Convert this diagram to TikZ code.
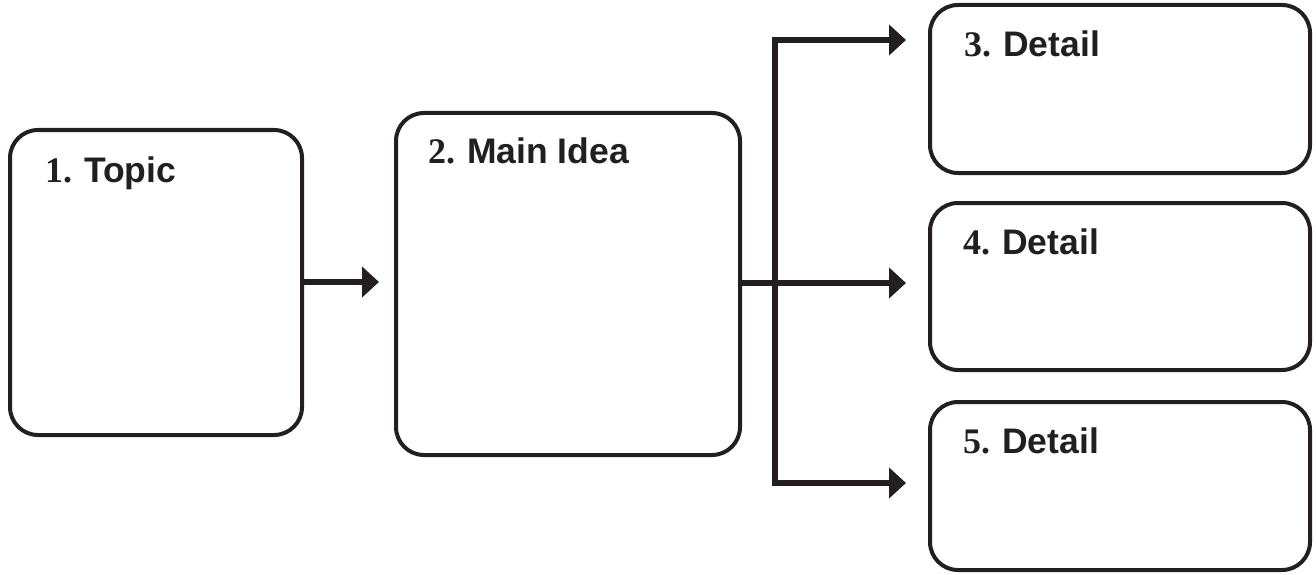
\documentclass[tikz,border=0pt]{standalone}
\usepackage{fontspec}
\setmainfont{Liberation Sans}
\newfontfamily\numfont{Liberation Serif}
\usetikzlibrary{arrows.meta}
\definecolor{ink}{HTML}{231F20}
\tikzset{
  box/.style={draw=ink, line width=4pt, rounded corners=28pt, inner sep=0pt, fill=white},
  lbl/.style={anchor=base west, inner sep=0pt, text=ink, font=\fontsize{35.5}{40}\selectfont\bfseries},
  conn/.style={draw=ink, line width=6.5pt, line join=miter, -{Triangle[length=17pt,width=30pt]}},
}
\newcommand{\numlbl}[1]{{\numfont\fontsize{36}{40}\selectfont\bfseries #1}\hspace{12pt}}
\begin{document}
\begin{tikzpicture}[x=1pt,y=-1pt]
\useasboundingbox (0,0) rectangle (1316,575);
% boxes
\node[box, minimum width=292pt, minimum height=305pt] (b1) at (156,282.5) {};
\node[box, minimum width=344pt, minimum height=342pt] (b2) at (568,284) {};
\node[box, minimum width=380pt, minimum height=168pt] (b3) at (1120,89) {};
\node[box, minimum width=380pt, minimum height=167pt] (b4) at (1120,286.5) {};
\node[box, minimum width=380pt, minimum height=168pt] (b5) at (1120,486) {};
% labels
\node[lbl] (l1) at (45,182) {\numlbl{1.}Topic};
\node[lbl] (l2) at (428,163) {\numlbl{2.}Main Idea};
\node[lbl] (l3) at (964,57) {\numlbl{3.}Detail};
\node[lbl] (l4) at (963,254) {\numlbl{4.}Detail};
\node[lbl] (l5) at (963,453) {\numlbl{5.}Detail};
% connectors
\coordinate (a1) at (302,282);
\draw[conn, shorten >=15pt] (a1) -- (a1 -| b2.west);
\coordinate (m) at (740,283);
\draw[conn, shorten >=22pt] (m) -- (m -| b4.west);
\coordinate (jt) at (775,40);
\coordinate (jb) at (775,483);
\draw[conn, {Triangle[length=17pt,width=30pt]}-{Triangle[length=17pt,width=30pt]}, shorten <=22pt, shorten >=22pt]
  (jt -| b3.west) -- (jt) -- (jb) -- (jb -| b5.west);
\end{tikzpicture}
\end{document}
